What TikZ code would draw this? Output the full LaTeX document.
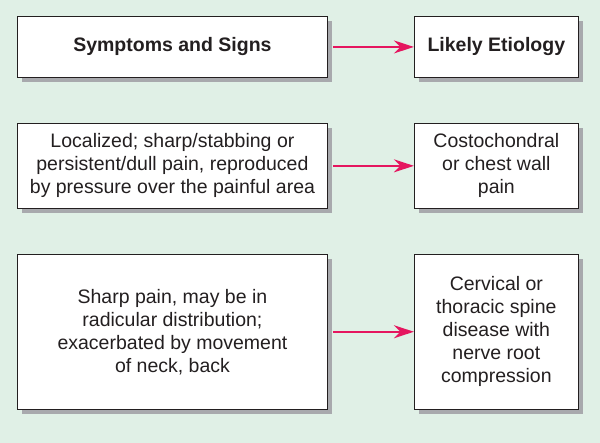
\documentclass[tikz,border=0pt]{standalone}
\usepackage{fontspec}
\setmainfont{Liberation Sans}
\usetikzlibrary{arrows.meta,positioning,shadows}
\definecolor{bggreen}{HTML}{E0F0E6}
\definecolor{arrowpink}{HTML}{E5165F}
\definecolor{shadowgray}{HTML}{A8A9AD}
\definecolor{inkgray}{HTML}{231F20}

\begin{document}
\begin{tikzpicture}[
  x=1pt, y=1pt,
  node distance=45pt and 86pt,
  box/.style={rectangle, draw=inkgray, line width=0.9pt, fill=white, align=center,
              text=inkgray, font=\fontsize{19.5}{23}\selectfont, inner sep=0pt,
              drop shadow={shadow xshift=5pt, shadow yshift=-5pt, opacity=1, fill=shadowgray}},
  sign/.style={box, minimum width=310pt},
  cause/.style={box, minimum width=164pt},
  arr/.style={-{Stealth[length=20pt, width=13pt]}, line width=2pt, draw=arrowpink, shorten <=5pt}
]
\fill[bggreen] (0,0) rectangle (600,-443);

\node[sign, minimum height=61pt, anchor=north west] (head) at (17,-16) {\bfseries Symptoms and Signs};
\node[cause, minimum height=61pt, right=of head] (etiology) {\bfseries Likely Etiology};

\node[sign, minimum height=85pt, below=of head] (local) {Localized; sharp/stabbing or\\persistent/dull pain, reproduced\\by pressure over the painful area};
\node[cause, minimum height=85pt, right=of local] (chestwall) {Costochondral\\or chest wall\\pain};

\node[sign, minimum height=155pt, below=of local] (radicular) {Sharp pain, may be in\\radicular distribution;\\exacerbated by movement\\of neck, back};
\node[cause, minimum height=155pt, right=of radicular] (spine) {Cervical or\\thoracic spine\\disease with\\nerve root\\compression};

\draw[arr] (head) -- (etiology);
\draw[arr] (local) -- (chestwall);
\draw[arr] (radicular) -- (spine);

\end{tikzpicture}
\end{document}
